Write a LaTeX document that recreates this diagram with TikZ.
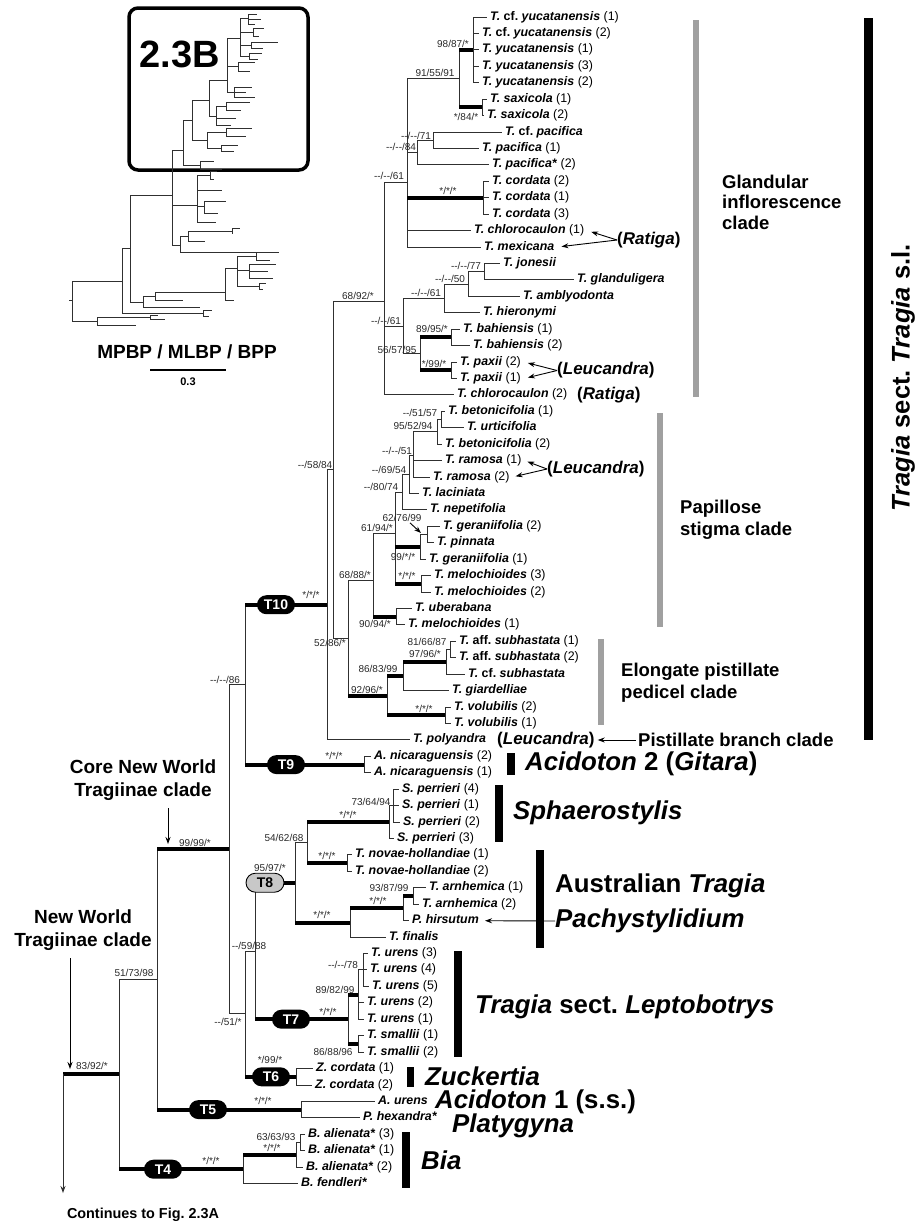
\documentclass[tikz,border=0pt]{standalone}
\usepackage{fontspec}
\setmainfont{Liberation Sans}
\usetikzlibrary{arrows.meta}
\frenchspacing
\definecolor{BranchC}{HTML}{303030}
\definecolor{BarGray}{HTML}{A0A0A0}
\definecolor{PillGray}{HTML}{C8C8C8}
\definecolor{SupC}{HTML}{282828}
\newcommand{\tn}[1]{\textbf{\textit{#1}}}
\newcommand{\dd}{-{}-}
\tikzset{
  br/.style={draw=BranchC, line width=0.9pt},
  thk/.style={draw=black, line width=4pt},
  tx/.style={anchor=west, inner xsep=3pt, inner ysep=0pt, text height=9pt, text depth=3pt, font=\fontsize{12.4}{14}\selectfont},
  sup/.style={inner sep=0pt, font=\fontsize{10}{11}\selectfont, text=SupC},
  pill/.style={rounded corners=9.5pt, fill=black, text=white, minimum width=38pt, minimum height=19pt, inner sep=0pt, font=\fontsize{14}{14}\selectfont\bfseries},
  pillg/.style={pill, fill=PillGray, draw=black, line width=0.9pt, text=black},
  clade/.style={anchor=west, align=left, inner sep=0pt, font=\fontsize{18.5}{22}\selectfont\bfseries},
  genus/.style={anchor=west, inner sep=0pt, font=\fontsize{25.8}{28}\selectfont\bfseries},
  paren/.style={anchor=west, inner sep=0pt, font=\fontsize{17}{18}\selectfont\bfseries},
  gbar/.style={fill=BarGray},
  kbar/.style={fill=black},
  arr/.style={-{Stealth[length=7pt, width=5pt]}, line width=0.9pt},
  inset/.style={draw=BranchC, line width=0.7pt}
}
\begin{document}
\begin{tikzpicture}[x=1pt, y=-1pt]
\useasboundingbox (0,0) rectangle (917,1224);

% ---- overview inset
\draw[line width=3.5pt, rounded corners=9pt] (129,8) rectangle (308,170);
\node[font=\fontsize{38}{40}\selectfont\bfseries] (lab23B) at (180,54) {2.3B};
\draw[inset] (69,300)--(72,300) (72,281)--(72,321)
  (72,321)--(97,321) (97,317)--(97,325) (97,317)--(150,317) (150,315)--(150,319)
  (150,315)--(158,315) (150,319)--(165,319) (97,325)--(136,325)
  (72,281)--(122,281) (122,248)--(122,313)
  (122,313)--(203,313) (203,310)--(203,316) (203,310)--(212,310) (203,316)--(209,316)
  (122,248)--(130,248) (130,195)--(130,302)
  (130,302)--(143,302) (143,296)--(143,307) (143,307)--(200,307) (143,296)--(155,296)
  (155,292)--(155,300) (155,300)--(183,300) (155,292)--(225,292)
  (225,268)--(225,300) (225,300)--(234,300) (225,268)--(237,268) (237,256)--(237,286)
  (237,256)--(256,256) (256,252)--(256,260) (256,252)--(274,252) (256,260)--(270,260)
  (237,270)--(249,270) (249,264)--(249,278) (249,264)--(276,264) (249,271)--(268,271) (249,278)--(273,278)
  (237,286)--(259,286) (259,283)--(259,289) (259,283)--(266,283) (259,289)--(263,289)
  (130,195)--(172,195) (172,150)--(172,245)
  (172,245)--(180,245) (180,236)--(180,252) (180,252)--(279,252) (180,236)--(188,236)
  (188,231)--(188,241) (188,231)--(232,231) (188,241)--(205,241) (232,228)--(232,234) (232,228)--(240,228)
  (172,205)--(197,205) (197,175)--(197,222) (197,175)--(210,175) (210,171)--(210,179)
  (210,171)--(217,171) (210,179)--(214,179) (197,190)--(222,190) (197,206)--(204,206)
  (204,201)--(204,213) (204,201)--(226,201) (204,213)--(218,213) (197,222)--(216,222)
  (172,150)--(183,150) (183,120)--(183,165)
  (183,165)--(200,165) (200,161)--(200,169) (200,161)--(214,161) (200,169)--(222,169)
  (183,120)--(192,120) (192,100)--(192,140)
  (192,140)--(207,140) (207,132)--(207,148) (207,132)--(226,132) (226,128)--(226,136)
  (226,128)--(252,128) (226,136)--(246,136) (207,148)--(221,148) (221,145)--(221,151)
  (221,145)--(238,145) (221,151)--(234,151)
  (192,100)--(209,100) (209,80)--(209,116)
  (209,116)--(216,116) (216,106)--(216,125) (216,106)--(226,106) (226,102)--(226,110)
  (226,102)--(250,102) (226,110)--(241,110) (216,118)--(236,118) (216,125)--(231,125)
  (209,80)--(227,80) (227,38)--(227,92)
  (227,92)--(234,92) (234,87)--(234,97) (234,87)--(252,87) (234,92)--(246,92) (234,97)--(255,97)
  (227,66)--(238,66) (238,62)--(238,71) (238,62)--(255,62) (238,71)--(250,71)
  (227,38)--(240,38) (240,18)--(240,56)
  (240,18)--(248,18) (248,14)--(248,24) (248,14)--(257,14) (248,19)--(261,19) (248,24)--(255,24)
  (240,32)--(253,32) (253,28)--(253,36) (253,28)--(264,28) (253,36)--(259,36)
  (240,45)--(251,45) (251,42)--(251,48) (251,42)--(278,42) (251,48)--(263,48)
  (240,56)--(249,56) (249,53)--(249,59) (249,53)--(262,53) (249,59)--(258,59);
\node[font=\fontsize{19}{20}\selectfont\bfseries] (mpbp) at (187,352) {MPBP / MLBP / BPP};
\coordinate (sbL) at (150,370);
\coordinate (sbR) at (226,370);
\draw[line width=1.5pt] (sbL) -- (sbR);
\node[font=\fontsize{11}{12}\selectfont\bfseries] (sbLab) at (188,382) {0.3};

% ---- taxa
\node[tx] (t01) at (487,17.0) {\tn{T.} \textbf{cf.} \tn{yucatanensis} (1)};
\node[tx] (t02) at (479,33.4) {\tn{T.} \textbf{cf.} \tn{yucatanensis} (2)};
\node[tx] (t03) at (479,49.9) {\tn{T. yucatanensis} (1)};
\node[tx] (t04) at (479,66.3) {\tn{T. yucatanensis} (3)};
\node[tx] (t05) at (479,82.7) {\tn{T. yucatanensis} (2)};
\node[tx] (t06) at (487,99.2) {\tn{T. saxicola} (1)};
\node[tx] (t07) at (484,115.6) {\tn{T. saxicola} (2)};
\node[tx] (t08) at (502,132.0) {\tn{T.} \textbf{cf.} \tn{pacifica}};
\node[tx] (t09) at (479,148.4) {\tn{T. pacifica} (1)};
\node[tx] (t10) at (489,164.9) {\tn{T. pacifica*} (2)};
\node[tx] (t11) at (489,181.3) {\tn{T. cordata} (2)};
\node[tx] (t12) at (489,197.7) {\tn{T. cordata} (1)};
\node[tx] (t13) at (489,214.2) {\tn{T. cordata} (3)};
\node[tx] (t14) at (471,230.6) {\tn{T. chlorocaulon} (1)};
\node[tx] (t15) at (481,247.0) {\tn{T. mexicana}};
\node[tx] (t16) at (500,263.5) {\tn{T. jonesii}};
\node[tx] (t17) at (574,279.9) {\tn{T. glanduligera}};
\node[tx] (t18) at (520,296.3) {\tn{T. amblyodonta}};
\node[tx] (t19) at (480,312.7) {\tn{T. hieronymi}};
\node[tx] (t20) at (460,329.2) {\tn{T. bahiensis} (1)};
\node[tx] (t21) at (470,345.6) {\tn{T. bahiensis} (2)};
\node[tx] (t22) at (457,362.0) {\tn{T. paxii} (2)};
\node[tx] (t23) at (457,378.5) {\tn{T. paxii} (1)};
\node[tx] (t24) at (454,394.9) {\tn{T. chlorocaulon} (2)};
\node[tx] (t25) at (445,411.3) {\tn{T. betonicifolia} (1)};
\node[tx] (t26) at (464,427.8) {\tn{T. urticifolia}};
\node[tx] (t27) at (442,444.2) {\tn{T. betonicifolia} (2)};
\node[tx] (t28) at (442,460.6) {\tn{T. ramosa} (1)};
\node[tx] (t29) at (430,477.0) {\tn{T. ramosa} (2)};
\node[tx] (t30) at (419,493.5) {\tn{T. laciniata}};
\node[tx] (t31) at (427,509.9) {\tn{T. nepetifolia}};
\node[tx] (t32) at (440,526.3) {\tn{T. geraniifolia} (2)};
\node[tx] (t33) at (434,542.8) {\tn{T. pinnata}};
\node[tx] (t34) at (426,559.2) {\tn{T. geraniifolia} (1)};
\node[tx] (t35) at (431,575.6) {\tn{T. melochioides} (3)};
\node[tx] (t36) at (431,592.1) {\tn{T. melochioides} (2)};
\node[tx] (t37) at (412,608.5) {\tn{T. uberabana}};
\node[tx] (t38) at (405,624.9) {\tn{T. melochioides} (1)};
\node[tx] (t39) at (456,641.3) {\tn{T.} \textbf{aff.} \tn{subhastata} (1)};
\node[tx] (t40) at (456,657.8) {\tn{T.} \textbf{aff.} \tn{subhastata} (2)};
\node[tx] (t41) at (465,674.2) {\tn{T.} \textbf{cf.} \tn{subhastata}};
\node[tx] (t42) at (449,690.6) {\tn{T. giardelliae}};
\node[tx] (t43) at (451,707.1) {\tn{T. volubilis} (2)};
\node[tx] (t44) at (451,723.5) {\tn{T. volubilis} (1)};
\node[tx] (t45) at (410,739.9) {\tn{T. polyandra}};
\node[tx] (t46) at (371,756.4) {\tn{A. nicaraguensis} (2)};
\node[tx] (t47) at (371,772.8) {\tn{A. nicaraguensis} (1)};
\node[tx] (t48) at (399,789.2) {\tn{S. perrieri} (4)};
\node[tx] (t49) at (399,805.6) {\tn{S. perrieri} (1)};
\node[tx] (t50) at (400,822.1) {\tn{S. perrieri} (2)};
\node[tx] (t51) at (394,838.5) {\tn{S. perrieri} (3)};
\node[tx] (t52) at (352,854.9) {\tn{T. novae-hollandiae} (1)};
\node[tx] (t53) at (352,871.4) {\tn{T. novae-hollandiae} (2)};
\node[tx] (t54) at (426,887.8) {\tn{T. arnhemica} (1)};
\node[tx] (t55) at (419,904.2) {\tn{T. arnhemica} (2)};
\node[tx] (t56) at (409,920.7) {\tn{P. hirsutum}};
\node[tx] (t57) at (386,937.1) {\tn{T. finalis}};
\node[tx] (t58) at (368,953.5) {\tn{T. urens} (3)};
\node[tx] (t59) at (367,969.9) {\tn{T. urens} (4)};
\node[tx] (t60) at (369,986.4) {\tn{T. urens} (5)};
\node[tx] (t61) at (364,1002.8) {\tn{T. urens} (2)};
\node[tx] (t62) at (364,1019.2) {\tn{T. urens} (1)};
\node[tx] (t63) at (364,1035.7) {\tn{T. smallii} (1)};
\node[tx] (t64) at (364,1052.1) {\tn{T. smallii} (2)};
\node[tx] (t65) at (313,1068.5) {\tn{Z. cordata} (1)};
\node[tx] (t66) at (312,1085.0) {\tn{Z. cordata} (2)};
\node[tx] (t67) at (375,1101.4) {\tn{A. urens}};
\node[tx] (t68) at (360,1117.8) {\tn{P. hexandra*}};
\node[tx] (t69) at (305,1134.2) {\tn{B. alienata*} (3)};
\node[tx] (t70) at (305,1150.7) {\tn{B. alienata*} (1)};
\node[tx] (t71) at (303,1167.1) {\tn{B. alienata*} (2)};
\node[tx] (t72) at (298,1183.5) {\tn{B. fendleri*}};

% ---- internal nodes
\coordinate (nYuc) at (473,49.9);
\coordinate (nSax) at (482,107.4);
\coordinate (nYS) at (459,78.6);
\coordinate (nPacS) at (433,140.2);
\coordinate (nPac) at (417,152.5);
\coordinate (nCord) at (483,197.7);
\coordinate (nGlA) at (407,182);
\coordinate (nJon) at (484,271.7);
\coordinate (nAmb) at (468,284);
\coordinate (nHie) at (444,298);
\coordinate (nBah) at (451,337.4);
\coordinate (nPax) at (451,370.2);
\coordinate (nBP) at (420,353.8);
\coordinate (nJP) at (403,326);
\coordinate (nGl) at (384,301);
\coordinate (nBet1) at (441,419.5);
\coordinate (nBet) at (437,431.9);
\coordinate (nRam) at (413,455);
\coordinate (nLac) at (409,474);
\coordinate (nNep) at (402,492);
\coordinate (nGer2) at (427,534.5);
\coordinate (nGer) at (420,546.9);
\coordinate (nMel) at (421,583.8);
\coordinate (nP94) at (395,533);
\coordinate (nUbe) at (396,616.7);
\coordinate (nP88) at (373,580);
\coordinate (nAff) at (450,649.6);
\coordinate (nSub) at (446,661.9);
\coordinate (nGia) at (403,676.3);
\coordinate (nVol) at (445,715.3);
\coordinate (nE92) at (387,695.8);
\coordinate (nP86) at (348,638);
\coordinate (nP58) at (333,469.5);
\coordinate (nT10) at (327,604.7);
\coordinate (nT9) at (364,764.6);
\coordinate (nCore86) at (245,684.6);
\coordinate (nPer3) at (393,805.6);
\coordinate (nSph) at (389,822.1);
\coordinate (nNov) at (347,863.2);
\coordinate (nS68) at (307,842.6);
\coordinate (nArn) at (413,896);
\coordinate (nHir) at (403,908.4);
\coordinate (nFin) at (350,922.8);
\coordinate (nT8) at (295,882.7);
\coordinate (nU78) at (363,969.9);
\coordinate (nU99) at (358,994.5);
\coordinate (nSma) at (358,1043.9);
\coordinate (nT7) at (348,1019.2);
\coordinate (nT87) at (255,951);
\coordinate (nT6) at (296,1076.8);
\coordinate (nL51) at (245,1013.9);
\coordinate (nCore) at (229,849.3);
\coordinate (nT5) at (301,1109.6);
\coordinate (nNW98) at (157,979.5);
\coordinate (nAli3) at (300,1142.5);
\coordinate (nAli) at (296,1154.8);
\coordinate (nT4) at (243,1169.2);
\coordinate (nNW) at (119,1074.3);
\coordinate (root) at (63,1074.3);
\coordinate (rootEnd) at (63,1193);

% ---- glandular inflorescence clade
\draw[br] (nYuc |- t01) -- (nYuc |- t05) (nYuc |- t01) -- (t01) (nYuc |- t02) -- (t02)
  (nYuc |- t03) -- (t03) (nYuc |- t04) -- (t04) (nYuc |- t05) -- (t05);
\draw[br] (nSax |- t06) -- (nSax |- t07) (nSax |- t06) -- (t06) (nSax |- t07) -- (t07);
\draw[br] (nYS |- nYuc) -- (nYS |- nSax);
\draw[thk] (nYS |- nYuc) -- (nYuc) (nYS |- nSax) -- (nSax);
\draw[br] (nPacS |- t08) -- (nPacS |- t09) (nPacS |- t08) -- (t08) (nPacS |- t09) -- (t09);
\draw[br] (nPac |- nPacS) -- (nPac |- t10) (nPac |- nPacS) -- (nPacS) (nPac |- t10) -- (t10);
\draw[br] (nCord |- t11) -- (nCord |- t13) (nCord |- t11) -- (t11) (nCord |- t12) -- (t12) (nCord |- t13) -- (t13);
\draw[br] (nGlA |- nYS) -- (nGlA |- t15) (nGlA |- nYS) -- (nYS) (nGlA |- nPac) -- (nPac)
  (nGlA |- t14) -- (t14) (nGlA |- t15) -- (t15);
\draw[thk] (nGlA |- nCord) -- (nCord);
\draw[br] (nJon |- t16) -- (nJon |- t17) (nJon |- t16) -- (t16) (nJon |- t17) -- (t17);
\draw[br] (nAmb |- nJon) -- (nAmb |- t18) (nAmb |- nJon) -- (nJon) (nAmb |- t18) -- (t18);
\draw[br] (nHie |- nAmb) -- (nHie |- t19) (nHie |- nAmb) -- (nAmb) (nHie |- t19) -- (t19);
\draw[br] (nBah |- t20) -- (nBah |- t21) (nBah |- t20) -- (t20) (nBah |- t21) -- (t21);
\draw[br] (nPax |- t22) -- (nPax |- t23) (nPax |- t22) -- (t22) (nPax |- t23) -- (t23);
\draw[br] (nBP |- nBah) -- (nBP |- nPax);
\draw[thk] (nBP |- nBah) -- (nBah) (nBP |- nPax) -- (nPax);
\draw[br] (nJP |- nHie) -- (nJP |- nBP) (nJP |- nHie) -- (nHie) (nJP |- nBP) -- (nBP);
\draw[br] (nGl |- nGlA) -- (nGl |- t24) (nGl |- nGlA) -- (nGlA) (nGl |- nJP) -- (nJP) (nGl |- t24) -- (t24);

% ---- papillose stigma clade
\draw[br] (nBet1 |- t25) -- (nBet1 |- t26) (nBet1 |- t25) -- (t25) (nBet1 |- t26) -- (t26);
\draw[br] (nBet |- nBet1) -- (nBet |- t27) (nBet |- nBet1) -- (nBet1) (nBet |- t27) -- (t27);
\draw[br] (nRam |- nBet) -- (nRam |- t29) (nRam |- nBet) -- (nBet) (nRam |- t28) -- (t28) (nRam |- t29) -- (t29);
\draw[br] (nLac |- nRam) -- (nLac |- t30) (nLac |- nRam) -- (nRam) (nLac |- t30) -- (t30);
\draw[br] (nNep |- nLac) -- (nNep |- t31) (nNep |- nLac) -- (nLac) (nNep |- t31) -- (t31);
\draw[br] (nGer2 |- t32) -- (nGer2 |- t33) (nGer2 |- t32) -- (t32) (nGer2 |- t33) -- (t33);
\draw[br] (nGer |- nGer2) -- (nGer |- t34) (nGer |- nGer2) -- (nGer2) (nGer |- t34) -- (t34);
\draw[br] (nMel |- t35) -- (nMel |- t36) (nMel |- t35) -- (t35) (nMel |- t36) -- (t36);
\draw[br] (nP94 |- nNep) -- (nP94 |- nMel) (nP94 |- nNep) -- (nNep);
\draw[thk] (nP94 |- nGer) -- (nGer) (nP94 |- nMel) -- (nMel);
\draw[br] (nUbe |- t37) -- (nUbe |- t38) (nUbe |- t37) -- (t37) (nUbe |- t38) -- (t38);
\draw[br] (nP88 |- nP94) -- (nP88 |- nUbe) (nP88 |- nP94) -- (nP94);
\draw[thk] (nP88 |- nUbe) -- (nUbe);

% ---- elongate pistillate pedicel clade
\draw[br] (nAff |- t39) -- (nAff |- t40) (nAff |- t39) -- (t39) (nAff |- t40) -- (t40);
\draw[br] (nSub |- nAff) -- (nSub |- t41) (nSub |- nAff) -- (nAff) (nSub |- t41) -- (t41);
\draw[br] (nGia |- nSub) -- (nGia |- t42) (nGia |- t42) -- (t42);
\draw[thk] (nGia |- nSub) -- (nSub);
\draw[br] (nVol |- t43) -- (nVol |- t44) (nVol |- t43) -- (t43) (nVol |- t44) -- (t44);
\draw[br] (nE92 |- nGia) -- (nE92 |- nVol);
\draw[thk] (nE92 |- nGia) -- (nGia) (nE92 |- nVol) -- (nVol);
\draw[br] (nP86 |- nP88) -- (nP86 |- nE92) (nP86 |- nP88) -- (nP88);
\draw[thk] (nP86 |- nE92) -- (nE92);
\draw[br] (nP58 |- nGl) -- (nP58 |- nP86) (nP58 |- nGl) -- (nGl) (nP58 |- nP86) -- (nP86);
\draw[br] (nT10 |- nP58) -- (nT10 |- t45) (nT10 |- nP58) -- (nP58) (nT10 |- t45) -- (t45);
\draw[br] (nT9 |- t46) -- (nT9 |- t47) (nT9 |- t46) -- (t46) (nT9 |- t47) -- (t47);
\draw[br] (nCore86 |- nT10) -- (nCore86 |- nT9);
\draw[thk] (nCore86 |- nT10) -- (nT10) (nCore86 |- nT9) -- (nT9);
\node[pill] (pT10) at (276,604.7) {T10};
\node[pill] (pT9) at (286,764.6) {T9};

% ---- T8
\draw[br] (nPer3 |- t48) -- (nPer3 |- t50) (nPer3 |- t48) -- (t48) (nPer3 |- t49) -- (t49) (nPer3 |- t50) -- (t50);
\draw[br] (nSph |- nPer3) -- (nSph |- t51) (nSph |- nPer3) -- (nPer3) (nSph |- t51) -- (t51);
\draw[br] (nNov |- t52) -- (nNov |- t53) (nNov |- t52) -- (t52) (nNov |- t53) -- (t53);
\draw[br] (nS68 |- nSph) -- (nS68 |- nNov);
\draw[thk] (nS68 |- nSph) -- (nSph) (nS68 |- nNov) -- (nNov);
\draw[br] (nArn |- t54) -- (nArn |- t55) (nArn |- t54) -- (t54) (nArn |- t55) -- (t55);
\draw[br] (nHir |- nArn) -- (nHir |- t56) (nHir |- t56) -- (t56);
\draw[thk] (nHir |- nArn) -- (nArn);
\draw[br] (nFin |- nHir) -- (nFin |- t57) (nFin |- t57) -- (t57);
\draw[thk] (nFin |- nHir) -- (nHir);
\draw[br] (nT8 |- nS68) -- (nT8 |- nFin) (nT8 |- nS68) -- (nS68);
\draw[thk] (nT8 |- nFin) -- (nFin);

% ---- T7, T6
\draw[br] (nU78 |- t58) -- (nU78 |- t60) (nU78 |- t58) -- (t58) (nU78 |- t59) -- (t59) (nU78 |- t60) -- (t60);
\draw[br] (nU99 |- nU78) -- (nU99 |- t62) (nU99 |- nU78) -- (nU78) (nU99 |- t61) -- (t61) (nU99 |- t62) -- (t62);
\draw[br] (nSma |- t63) -- (nSma |- t64) (nSma |- t63) -- (t63) (nSma |- t64) -- (t64);
\draw[br] (nT7 |- nU99) -- (nT7 |- nSma);
\draw[thk] (nT7 |- nU99) -- (nU99) (nT7 |- nSma) -- (nSma);
\draw[br] (nT87 |- nT8) -- (nT87 |- nT7);
\draw[thk] (nT87 |- nT8) -- (nT8) (nT87 |- nT7) -- (nT7);
\node[pillg] (pT8) at (265,882.7) {T8};
\node[pill] (pT7) at (291,1019.2) {T7};
\draw[br] (nT6 |- t65) -- (nT6 |- t66) (nT6 |- t65) -- (t65) (nT6 |- t66) -- (t66);
\draw[br] (nL51 |- nT87) -- (nL51 |- nT6) (nL51 |- nT87) -- (nT87);
\draw[thk] (nL51 |- nT6) -- (nT6);
\node[pill] (pT6) at (271,1076.8) {T6};
\draw[br] (nCore |- nCore86) -- (nCore |- nL51) (nCore |- nCore86) -- (nCore86) (nCore |- nL51) -- (nL51);

% ---- T5, T4, root
\draw[br] (nT5 |- t67) -- (nT5 |- t68) (nT5 |- t67) -- (t67) (nT5 |- t68) -- (t68);
\draw[br] (nNW98 |- nCore) -- (nNW98 |- nT5);
\draw[thk] (nNW98 |- nCore) -- (nCore) (nNW98 |- nT5) -- (nT5);
\node[pill] (pT5) at (208,1109.6) {T5};
\draw[br] (nAli3 |- t69) -- (nAli3 |- t70) (nAli3 |- t69) -- (t69) (nAli3 |- t70) -- (t70);
\draw[br] (nAli |- nAli3) -- (nAli |- t71) (nAli |- nAli3) -- (nAli3) (nAli |- t71) -- (t71);
\draw[br] (nT4 |- nAli) -- (nT4 |- t72) (nT4 |- t72) -- (t72);
\draw[thk] (nT4 |- nAli) -- (nAli);
\draw[br] (nNW |- nNW98) -- (nNW |- nT4) (nNW |- nNW98) -- (nNW98);
\draw[thk] (nNW |- nT4) -- (nT4);
\node[pill] (pT4) at (163,1169.2) {T4};
\draw[thk] (root) -- (nNW);
\draw[br, arr] (root) -- (rootEnd);

% ---- support values
\node[sup] (s01) at (453,44) {98/87/*};
\node[sup] (s02) at (435,73) {91/55/91};
\node[sup] (s03) at (466,117) {*/84/*};
\node[sup] (s04) at (416,136) {\dd/\dd/71};
\node[sup] (s05) at (401,147) {\dd/\dd/84};
\node[sup] (s06) at (389,176) {\dd/\dd/61};
\node[sup] (s07) at (448,191) {*/*/*};
\node[sup] (s08) at (358,296) {68/92/*};
\node[sup] (s09) at (466,266) {\dd/\dd/77};
\node[sup] (s10) at (450,279) {\dd/\dd/50};
\node[sup] (s11) at (426,293) {\dd/\dd/61};
\node[sup] (s12) at (432,329) {89/95/*};
\node[sup] (s13) at (386,321) {\dd/\dd/61};
\node[sup] (s14) at (397,350) {56/57/95};
\node[sup] (s15) at (434,364) {*/99/*};
\node[sup] (s16) at (420,413) {\dd/51/57};
\node[sup] (s17) at (413,426) {95/52/94};
\node[sup] (s18) at (397,451) {\dd/\dd/51};
\node[sup] (s19) at (389,470) {\dd/69/54};
\node[sup] (s20) at (381,487) {\dd/80/74};
\node[sup] (s21) at (402,518) {62/76/99};
\node[sup] (s22) at (403,557) {99/*/*};
\node[sup] (s23) at (377,528) {61/94/*};
\node[sup] (s24) at (407,576) {*/*/*};
\node[sup] (s25) at (355,575) {68/88/*};
\node[sup] (s26) at (375,624) {90/94/*};
\node[sup] (s27) at (427,642) {81/66/87};
\node[sup] (s28) at (425,654) {97/96/*};
\node[sup] (s29) at (378,669) {86/83/99};
\node[sup] (s30) at (367,690) {92/96/*};
\node[sup] (s31) at (424,709) {*/*/*};
\node[sup] (s32) at (330,643) {52/86/*};
\node[sup] (s33) at (315,465) {\dd/58/84};
\node[sup] (s34) at (311,595) {*/*/*};
\node[sup] (s35) at (334,756) {*/*/*};
\node[sup] (s36) at (225,680) {\dd/\dd/86};
\node[sup] (s37) at (371,802) {73/64/94};
\node[sup] (s38) at (348,815) {*/*/*};
\node[sup] (s39) at (284,838) {54/62/68};
\node[sup] (s40) at (327,856) {*/*/*};
\node[sup] (s41) at (270,868) {95/97/*};
\node[sup] (s42) at (389,888) {93/87/99};
\node[sup] (s43) at (378,901) {*/*/*};
\node[sup] (s44) at (322,915) {*/*/*};
\node[sup] (s45) at (249,946) {\dd/59/88};
\node[sup] (s46) at (343,965) {\dd/\dd/78};
\node[sup] (s47) at (335,990) {89/82/99};
\node[sup] (s48) at (328,1012) {*/*/*};
\node[sup] (s49) at (333,1052) {86/88/96};
\node[sup] (s50) at (228,1022) {\dd/51/*};
\node[sup] (s51) at (270,1060) {*/99/*};
\node[sup] (s52) at (195,843) {99/99/*};
\node[sup] (s53) at (263,1101) {*/*/*};
\node[sup] (s54) at (134,973) {51/73/98};
\node[sup] (s55) at (276,1137) {63/63/93};
\node[sup] (s56) at (272,1148) {*/*/*};
\node[sup] (s57) at (211,1161) {*/*/*};
\node[sup] (s58) at (92,1066) {83/92/*};
\coordinate (a62) at (421,533);
\draw[arr] (s21.south) ++(8,1) -- (a62);

% ---- names in parentheses
\node[paren] (rat1) at (617,240) {(\textit{Ratiga})};
\draw[arr, shorten >=4pt] (rat1.west) -- (t14.east);
\draw[arr, shorten >=4pt] (rat1.west) -- (t15.east);
\node[paren] (leu1) at (557,370.5) {(\textit{Leucandra})};
\draw[arr, shorten >=4pt] (leu1.west) -- (t22.east);
\draw[arr, shorten >=4pt] (leu1.west) -- (t23.east);
\node[paren] (rat2) at (577,394.9) {(\textit{Ratiga})};
\node[paren] (leu2) at (547,469) {(\textit{Leucandra})};
\draw[arr, shorten >=3pt] (leu2.west) -- (t28.east);
\draw[arr, shorten >=3pt] (leu2.west) -- (t29.east);
\node[paren] (leu3) at (497,740) {(\textit{Leucandra})};

% ---- clade bars and names
\fill[gbar] (693,20) rectangle (699,397);
\node[clade, font=\fontsize{18.5}{20.5}\selectfont\bfseries] (glan) at (722,202) {Glandular\\inflorescence\\clade};
\fill[gbar] (657,413) rectangle (663,627);
\node[clade] (papi) at (680,520) {Papillose\\stigma clade};
\fill[gbar] (598,639) rectangle (604,725);
\node[clade] (elon) at (621,683) {Elongate pistillate\\pedicel clade};
\node[clade] (pist) at (638,740) {Pistillate branch clade};
\draw[arr, shorten >=3pt, shorten <=2pt] (pist.west) -- (leu3.east);
\fill[kbar] (864,18) rectangle (873,740);
\node[rotate=90, font=\fontsize{25.5}{28}\selectfont\bfseries] (sectT) at (903,378) {\textit{Tragia} sect. \textit{Tragia} s.l.};

\fill[kbar] (507,753) rectangle (515,775);
\node[genus] (acid2) at (525,764) {\textit{Acidoton} 2 (\textit{Gitara})};
\fill[kbar] (495,785) rectangle (503,842);
\node[genus] (sphae) at (513,813) {\textit{Sphaerostylis}};
\fill[kbar] (536,850) rectangle (544,948);
\node[genus] (austr) at (555,886) {Australian \textit{Tragia}};
\node[genus] (pachy) at (555,921) {\textit{Pachystylidium}};
\draw[arr, shorten >=3pt] (pachy.west) -- (t56.east);
\fill[kbar] (454,951) rectangle (462,1057);
\node[genus] (lepto) at (475,1007) {\textit{Tragia} sect. \textit{Leptobotrys}};
\fill[kbar] (407,1067) rectangle (414,1087);
\node[genus] (zuck) at (425,1076) {\textit{Zuckertia}};
\node[genus] (acid1) at (435,1102) {\textit{Acidoton} 1 (s.s.)};
\node[genus] (platy) at (452,1126) {\textit{Platygyna}};
\fill[kbar] (402,1132) rectangle (410,1188);
\node[genus] (bia) at (421,1160) {\textit{Bia}};

% ---- left annotations
\node[font=\fontsize{19}{23.5}\selectfont\bfseries, align=center] (core) at (143,780) {Core New World\\Tragiinae clade};
\coordinate (coreTop) at (168,808);
\coordinate (coreTip) at (168,844);
\draw[arr] (coreTop) -- (coreTip);
\node[font=\fontsize{19}{23.5}\selectfont\bfseries, align=center] (nwld) at (83,930) {New World\\Tragiinae clade};
\coordinate (nwTop) at (70,958);
\coordinate (nwTip) at (70,1069);
\draw[arr] (nwTop) -- (nwTip);
\node[font=\fontsize{14.4}{16}\selectfont\bfseries] (cont) at (143,1215) {Continues to Fig. 2.3A};
\end{tikzpicture}
\end{document}
